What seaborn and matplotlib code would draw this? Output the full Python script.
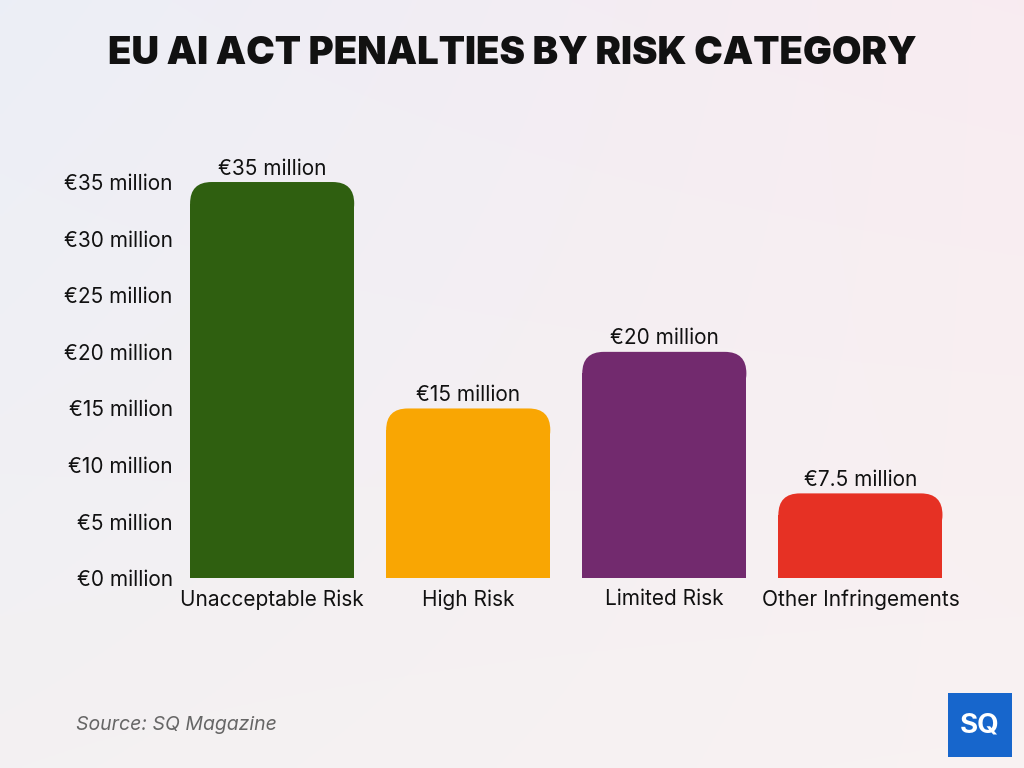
import numpy as np
import pandas as pd
import matplotlib.pyplot as plt
import seaborn as sns
from matplotlib.patches import FancyBboxPatch, Rectangle

# ── Data ───────────────────────────────────────────────────────────────────────
categories = ["Unacceptable Risk", "High Risk", "Limited Risk", "Other Infringements"]
penalties = [35, 15, 20, 7.5]
value_labels = ["€35 million", "€15 million", "€20 million", "€7.5 million"]
tick_values = [0, 5, 10, 15, 20, 25, 30, 35]
tick_labels = [f"€{v} million" for v in tick_values]
bar_colors = ["#2f5f10", "#f9a603", "#722a6e", "#e63124"]

df = pd.DataFrame({"category": categories, "penalty": penalties})

sns.set_theme(style="white")
plt.rcParams["font.family"] = ["Inter", "DejaVu Sans"]

fig = plt.figure(figsize=(10.24, 7.68), dpi=100)

# ── Soft gradient background ─────────────────────────────────────────────────
bg = fig.add_axes([0, 0, 1, 1], zorder=-10)
gx, gy = np.meshgrid(np.linspace(0, 1, 256), np.linspace(0, 1, 256))
c_tl = np.array([0.925, 0.935, 0.965])
c_tr = np.array([0.975, 0.925, 0.945])
c_bl = np.array([0.955, 0.945, 0.950])
c_br = np.array([0.975, 0.950, 0.950])
img = (c_tl * ((1 - gx) * (1 - gy))[..., None] + c_tr * (gx * (1 - gy))[..., None]
       + c_bl * ((1 - gx) * gy)[..., None] + c_br * (gx * gy)[..., None])
bg.imshow(img, aspect="auto", extent=[0, 1, 0, 1], origin="upper")
bg.axis("off")

# ── Bars ───────────────────────────────────────────────────────────────────────
ax = fig.add_axes([0.170, 0.247, 0.766, 0.516])
ax.patch.set_alpha(0)
sns.barplot(data=df, x="category", y="penalty", hue="category",
            palette=bar_colors, width=0.837, legend=False, ax=ax, saturation=1)
ax.set_xlim(-0.5, 3.5)
ax.set_ylim(0, 35)

# rounded top corners: shorten the bar, cap it with a rounded box
r_x, r_y = 0.11, 1.9
for patch, color in zip(list(ax.patches), bar_colors):
    x0, w, h = patch.get_x(), patch.get_width(), patch.get_height()
    patch.set_height(h - r_y)
    patch.set_edgecolor("none")
    cap = FancyBboxPatch((x0 + r_x, h - r_y), w - 2 * r_x, 0.0,
                         boxstyle=f"round,pad={r_x},rounding_size={r_x}",
                         mutation_aspect=r_y / r_x, fc=color, ec="none", clip_on=False)
    ax.add_patch(cap)

for i, (v, lab) in enumerate(zip(penalties, value_labels)):
    ax.text(i, v + 0.3, lab, ha="center", va="bottom", fontsize=15, color="#111111", clip_on=False)

ax.set_yticks(tick_values)
ax.set_yticklabels(tick_labels, fontsize=15, color="#111111")
ax.tick_params(axis="x", labelsize=15, colors="#111111", pad=8, length=0)
ax.tick_params(axis="y", pad=1, length=0)
ax.set_xlabel("")
ax.set_ylabel("")
sns.despine(ax=ax, left=True, bottom=True)

# ── Title, source, logo ─────────────────────────────────────────────────────
fig.text(0.5, 0.930, "EU AI ACT PENALTIES BY RISK CATEGORY", ha="center", va="center",
         fontsize=27.6, fontweight="black", color="#111111")
fig.text(0.074, 0.056, "Source: SQ Magazine", ha="left", va="center",
         fontsize=14, style="italic", color="#666666")
fig.patches.append(Rectangle((948 / 1024, 11 / 768), 64 / 1024, 64 / 768,
                             transform=fig.transFigure, fc="#1766cc", ec="none", zorder=5))
fig.text(980 / 1024, 43 / 768, "SQ", ha="center", va="center", fontsize=20,
         fontweight="bold", color="white", zorder=6)

plt.savefig("out.png", dpi=100)
